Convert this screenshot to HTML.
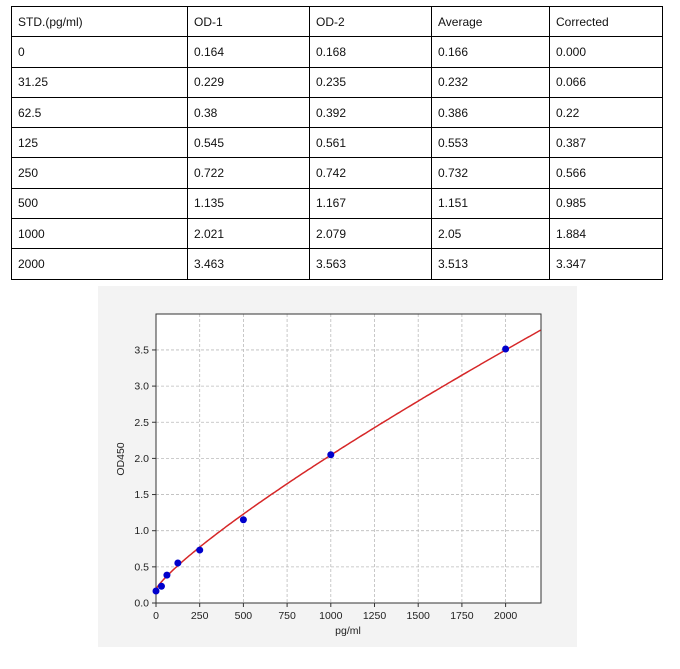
<!DOCTYPE html>
<html><head><meta charset="utf-8"><style>
body{margin:0;background:#fff;width:680px;height:669px;position:relative;font-family:"Liberation Sans",sans-serif;overflow:hidden}
table{position:absolute;left:11px;top:6px;border-collapse:collapse;font-size:12px;color:#111}
td{border:1px solid #000;height:30.3px;padding:0 0 0 6px;box-sizing:border-box}
</style></head><body>
<table>
<colgroup><col style="width:176px"><col style="width:122px"><col style="width:122px"><col style="width:118px"><col style="width:113px"></colgroup>
<tr><td>STD.(pg/ml)</td><td>OD-1</td><td>OD-2</td><td>Average</td><td>Corrected</td></tr>
<tr><td>0</td><td>0.164</td><td>0.168</td><td>0.166</td><td>0.000</td></tr>
<tr><td>31.25</td><td>0.229</td><td>0.235</td><td>0.232</td><td>0.066</td></tr>
<tr><td>62.5</td><td>0.38</td><td>0.392</td><td>0.386</td><td>0.22</td></tr>
<tr><td>125</td><td>0.545</td><td>0.561</td><td>0.553</td><td>0.387</td></tr>
<tr><td>250</td><td>0.722</td><td>0.742</td><td>0.732</td><td>0.566</td></tr>
<tr><td>500</td><td>1.135</td><td>1.167</td><td>1.151</td><td>0.985</td></tr>
<tr><td>1000</td><td>2.021</td><td>2.079</td><td>2.05</td><td>1.884</td></tr>
<tr><td>2000</td><td>3.463</td><td>3.563</td><td>3.513</td><td>3.347</td></tr>
</table>
<svg id="s" width="680" height="669" style="position:absolute;left:0;top:0" font-family="Liberation Sans,sans-serif" font-size="10.5" fill="#222"></svg>
<script>
var s=document.getElementById('s'),h='';
h+='<rect x="98" y="286" width="479" height="361" fill="#f3f3f3"/>';
h+='<rect x="156" y="314" width="385" height="289" fill="#fff"/>';
function X(v){return 156+v*43.7/250}function Y(v){return 603-v*72.3}
for(var i=0;i<=2000;i+=250){var x=X(i);if(i>0)h+='<line x1="'+x+'" y1="314" x2="'+x+'" y2="603" stroke="#bbb" stroke-dasharray="3,2" stroke-width="0.8"/>';h+='<line x1="'+x+'" y1="603" x2="'+x+'" y2="607" stroke="#333"/><text x="'+x+'" y="619" text-anchor="middle">'+i+'</text>';}
for(var j=0;j<=7;j++){var v=j*0.5,y=Y(v);if(j>0)h+='<line x1="156" y1="'+y+'" x2="541" y2="'+y+'" stroke="#bbb" stroke-dasharray="3,2" stroke-width="0.8"/>';h+='<line x1="152" y1="'+y+'" x2="156" y2="'+y+'" stroke="#333"/><text x="149" y="'+(y+3.5)+'" text-anchor="end">'+v.toFixed(1)+'</text>';}
h+='<rect x="156" y="314" width="385" height="289" fill="none" stroke="#333" stroke-width="1"/>';
var p='';for(var x=0;x<=2205;x+=10){var yv=0.19+0.0058*Math.pow(x,0.835);p+=(x?'L':'M')+X(x).toFixed(1)+','+Y(yv).toFixed(1);}
h+='<path d="'+p+'" fill="none" stroke="#d62728" stroke-width="1.5"/>';
[[0,0.166],[31.25,0.232],[62.5,0.386],[125,0.553],[250,0.732],[500,1.151],[1000,2.05],[2000,3.513]].forEach(function(d){h+='<circle cx="'+X(d[0])+'" cy="'+Y(d[1])+'" r="3.5" fill="#0000cc"/>';});
h+='<text x="348" y="634" text-anchor="middle">pg/ml</text>';
h+='<text transform="translate(124,459) rotate(-90)" text-anchor="middle">OD450</text>';
s.innerHTML=h;
</script>
</body></html>
